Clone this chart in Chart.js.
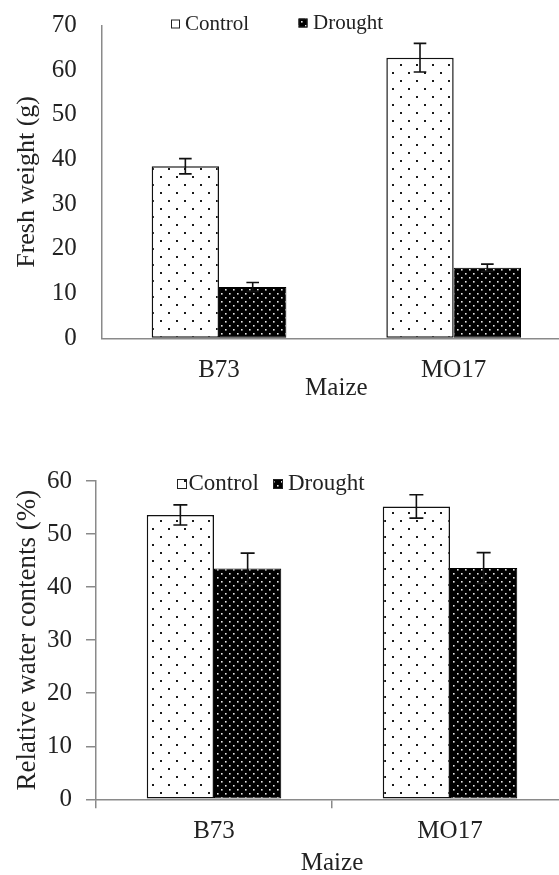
<!DOCTYPE html>
<html><head><meta charset="utf-8">
<script src="https://cdn.jsdelivr.net/npm/chart.js@4.4.0/dist/chart.umd.min.js"></script>
<style>
html,body{margin:0;padding:0;background:#fff;overflow:hidden;width:559px;height:875px;position:relative;}
#c1{position:absolute;left:0;top:0;}
#c2{position:absolute;left:0;top:440px;}
</style></head><body>
<canvas id="c1" width="571" height="403"></canvas>
<canvas id="c2" width="568" height="438"></canvas>
<script>
// ---- data ----
const categories = ['B73', 'MO17'];
const seriesNames = ['Control', 'Drought'];
const axisTitleX = 'Maize';
const freshTitle = 'Fresh weight (g)';
const rwcTitle = 'Relative water contents (%)';

const freshControl = [38.5, 62.8];
const freshControlErr = [1.7, 3.2];
const freshDrought = [11.5, 15.8];
const freshDroughtErr = [1.0, 0.8];

const rwcControl = [53.6, 55.2];
const rwcControlErr = [1.9, 2.2];
const rwcDrought = [43.5, 43.6];
const rwcDroughtErr = [2.9, 2.9];

const freshTicks = [0, 10, 20, 30, 40, 50, 60, 70];
const rwcTicks = [0, 10, 20, 30, 40, 50, 60];

// ---- styles ----
const FONT = 'Liberation Serif';
const TXT = '#222';
const AX = '#8a8a8a';
Chart.defaults.font.family = FONT;
Chart.defaults.color = TXT;

function makePattern(canvas, bg, fg, w, h, dots, size) {
  const t = document.createElement('canvas');
  t.width = w; t.height = h;
  const x = t.getContext('2d');
  x.fillStyle = bg; x.fillRect(0, 0, w, h);
  x.fillStyle = fg;
  dots.forEach(([dx, dy]) => x.fillRect(dx, dy, size, size));
  return canvas.getContext('2d').createPattern(t, 'repeat');
}

const errorBars = {
  id: 'errorBars',
  afterDatasetsDraw(chart, args, opts) {
    const ctx = chart.ctx, ys = chart.scales.y;
    chart.data.datasets.forEach((ds, i) => {
      const meta = chart.getDatasetMeta(i);
      meta.data.forEach((bar, j) => {
        const v = ds.data[j], e = ds.errors[j];
        const yt = ys.getPixelForValue(v + e), yb = ys.getPixelForValue(v - e);
        const c = opts.cap;
        ctx.save();
        ctx.strokeStyle = opts.color; ctx.lineWidth = opts.width;
        ctx.beginPath();
        ctx.moveTo(bar.x, yt); ctx.lineTo(bar.x, yb);
        ctx.moveTo(bar.x - c, yt); ctx.lineTo(bar.x + c, yt);
        ctx.moveTo(bar.x - c, yb); ctx.lineTo(bar.x + c, yb);
        ctx.stroke();
        ctx.restore();
      });
    });
  }
};

const boxLegend = {
  id: 'boxLegend',
  afterDraw(chart, args, opts) {
    const ctx = chart.ctx;
    ctx.save();
    ctx.font = opts.size + 'px ' + FONT;
    ctx.textBaseline = 'alphabetic';
    chart.data.datasets.forEach((ds, i) => {
      const it = opts.items[i];
      ctx.fillStyle = ds.backgroundColor;
      ctx.fillRect(it.x, it.y, opts.box, opts.box);
      ctx.strokeStyle = '#222'; ctx.lineWidth = 1;
      ctx.strokeRect(it.x + 0.5, it.y + 0.5, opts.box - 1, opts.box - 1);
      ctx.fillStyle = TXT;
      ctx.fillText(ds.label, it.tx, it.base);
    });
    ctx.restore();
  }
};

function buildChart(canvas, cfg) {
  const ctrlPat = makePattern(canvas, '#ffffff', '#1a1a1a', 16, 16, [[0, 0], [8, 8]], 2);
  const drPat = makePattern(canvas, '#000000', '#e6e6e6', 8, 8, [[1, 1], [5, 5]], 1.6);
  return new Chart(canvas, {
    type: 'bar',
    data: {
      labels: categories,
      datasets: [
        { label: seriesNames[0], data: cfg.ctrl, errors: cfg.ctrlErr, backgroundColor: ctrlPat,
          borderColor: '#111', borderWidth: 1.5, borderSkipped: false,
          categoryPercentage: cfg.catPct, barPercentage: 1 },
        { label: seriesNames[1], data: cfg.dr, errors: cfg.drErr, backgroundColor: drPat,
          borderColor: '#000', borderWidth: 1, borderSkipped: false,
          categoryPercentage: cfg.catPct, barPercentage: 1 }
      ]
    },
    options: {
      responsive: false, animation: false, devicePixelRatio: 1,
      layout: { padding: { top: cfg.top, left: 0, right: 0, bottom: 0 } },
      plugins: {
        legend: { display: false }, tooltip: { enabled: false },
        errorBars: { color: '#111', width: 1.6, cap: cfg.cap },
        boxLegend: cfg.legend
      },
      scales: {
        x: {
          afterFit(s) { s.height = cfg.xHeight; },
          grid: cfg.xGrid,
          border: { display: true, color: AX, width: 1.5 },
          ticks: { padding: cfg.xPad, font: { family: FONT, size: 25 }, color: TXT },
          title: { display: true, text: axisTitleX, font: { family: FONT, size: 25 }, color: TXT, padding: { top: 0, bottom: 0 } }
        },
        y: {
          min: 0, max: cfg.ticks[cfg.ticks.length - 1],
          afterBuildTicks(s) { s.ticks = cfg.ticks.map(v => ({ value: v })); },
          afterFit(s) { s.width = cfg.yWidth; },
          grid: cfg.yGrid,
          border: { display: true, color: AX, width: 1.5 },
          ticks: { padding: cfg.yPad, font: { family: FONT, size: 25 }, color: TXT },
          title: { display: true, text: cfg.yTitle, font: { family: FONT, size: cfg.yTitleSize }, color: TXT, padding: { top: cfg.yTitlePad, bottom: 0 } }
        }
      }
    },
    plugins: [errorBars, boxLegend]
  });
}

buildChart(document.getElementById('c1'), {
  ctrl: freshControl, ctrlErr: freshControlErr, dr: freshDrought, drErr: freshDroughtErr,
  ticks: freshTicks, yTitle: freshTitle, yTitleSize: 26, yTitlePad: 11.4,
  catPct: 0.574, top: 25.5, yWidth: 101.7, xHeight: 64.7, xPad: 17, yPad: 0, cap: 6.3,
  xGrid: { display: false, drawTicks: false },
  yGrid: { display: true, drawOnChartArea: false, drawTicks: true, tickLength: 25, color: 'rgba(0,0,0,0)' },
  legend: { size: 21, box: 9, items: [
    { x: 171, y: 19.5, tx: 185, base: 29.5 },
    { x: 298.5, y: 18.5, tx: 313, base: 28.5 }
  ] }
});

buildChart(document.getElementById('c2'), {
  ctrl: rwcControl, ctrlErr: rwcControlErr, dr: rwcDrought, drErr: rwcDroughtErr,
  ticks: rwcTicks, yTitle: rwcTitle, yTitleSize: 27, yTitlePad: 11.8,
  catPct: 0.57, top: 41, yWidth: 96, xHeight: 78.7, xPad: 8, yPad: 14, cap: 7,
  xGrid: { display: true, offset: true, drawOnChartArea: false, drawTicks: true, tickLength: 9, color: AX, lineWidth: 1.5 },
  yGrid: { display: true, drawOnChartArea: false, drawTicks: true, tickLength: 10, color: AX, lineWidth: 1.5 },
  legend: { size: 23, box: 10, items: [
    { x: 177, y: 39, tx: 188.5, base: 50 },
    { x: 273, y: 39, tx: 288, base: 50 }
  ] }
});
</script>
</body></html>
